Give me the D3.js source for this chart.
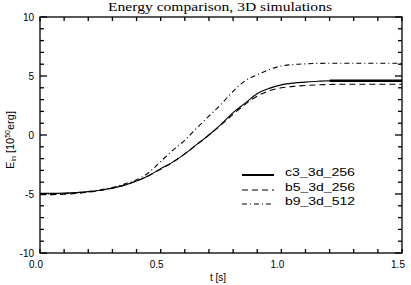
<!DOCTYPE html>
<html>
<head>
<meta charset="utf-8">
<script src="https://cdn.jsdelivr.net/npm/d3@7/dist/d3.min.js"></script>
<style>
	html, body { margin: 0; padding: 0; background: #fff; }
	svg { display: block; }
	text { fill: #000; }
</style>
</head>
<body>
<svg id="chart" width="411" height="285"></svg>
<script>
// time samples [s]
const times = [0, 0.05, 0.1, 0.15, 0.2, 0.25, 0.3, 0.35, 0.4, 0.45, 0.5, 0.55, 0.6, 0.65, 0.7, 0.75,
	0.8, 0.85, 0.9, 0.95, 1.0, 1.05, 1.1, 1.15, 1.2, 1.25, 1.3, 1.35, 1.4, 1.45, 1.5];

// energies
const c3Values = [-4.95, -4.95, -4.93, -4.88, -4.8, -4.68, -4.5, -4.25, -3.9, -3.45, -2.85, -2.3, -1.6, -0.8, 0.0, 0.9,
	1.9, 2.7, 3.5, 3.95, 4.25, 4.4, 4.48, 4.55, 4.6, 4.6, 4.6, 4.6, 4.6, 4.6, 4.6];
const b5Values = [-5.05, -5.05, -5.02, -4.95, -4.85, -4.7, -4.5, -4.25, -3.9, -3.45, -2.9, -2.3, -1.6, -0.8, 0.0, 0.85,
	1.75, 2.6, 3.3, 3.75, 4.0, 4.12, 4.2, 4.25, 4.28, 4.3, 4.3, 4.3, 4.3, 4.3, 4.3];
const b9Values = [-5.0, -5.0, -4.97, -4.9, -4.8, -4.65, -4.45, -4.15, -3.8, -3.2, -2.25, -1.3, -0.45, 0.6, 1.6, 2.6,
	3.7, 4.6, 5.1, 5.55, 5.85, 5.97, 6.03, 6.07, 6.08, 6.08, 6.08, 6.08, 6.08, 6.08, 6.08];

const seriesNames = ["c3_3d_256", "b5_3d_256", "b9_3d_512"];
const xTickLabels = ["0.0", "0.5", "1.0", "1.5"];
const yTickLabels = ["-10", "-5", "0", "5", "10"];

const margin = { top: 17, right: 9, bottom: 32, left: 40 },
	width = 411,
	height = 285;

const svg = d3.select("#chart");

const x = d3.scaleLinear().domain([0, 1.5]).range([margin.left, width - margin.right]);
const y = d3.scaleLinear().domain([-10, 10]).range([height - margin.bottom, margin.top]);

const xMajor = xTickLabels.map(Number),
	xMinor = d3.range(0, 16).map(i => i / 10),
	yMajor = yTickLabels.map(Number),
	yMinor = d3.range(-10, 11);

const tickLen = 4;

// frame
svg.append("rect")
	.attr("x", x(0)).attr("y", y(10))
	.attr("width", x(1.5) - x(0)).attr("height", y(-10) - y(10))
	.attr("fill", "none").attr("stroke", "#000").attr("stroke-width", 1.3);

// ticks on all four sides, pointing inward
const ticks = svg.append("g").attr("stroke", "#000").attr("stroke-width", 1.3);
xMinor.forEach(t => {
	ticks.append("line").attr("x1", x(t)).attr("x2", x(t)).attr("y1", y(-10)).attr("y2", y(-10) - tickLen);
	ticks.append("line").attr("x1", x(t)).attr("x2", x(t)).attr("y1", y(10)).attr("y2", y(10) + tickLen);
});
yMinor.forEach(v => {
	const len = yMajor.includes(v) ? tickLen + 3 : tickLen;
	ticks.append("line").attr("x1", x(0)).attr("x2", x(0) + len).attr("y1", y(v)).attr("y2", y(v));
	ticks.append("line").attr("x1", x(1.5)).attr("x2", x(1.5) - len).attr("y1", y(v)).attr("y2", y(v));
});

// tick labels
const labelFont = "'Liberation Sans', sans-serif";
svg.append("g").selectAll("text")
	.data(xMajor)
	.join("text")
	.attr("x", d => x(d) - 4)
	.attr("y", y(-10) + 15)
	.attr("text-anchor", "middle")
	.style("font", `10px ${labelFont}`)
	.text((d, i) => xTickLabels[i]);

svg.append("g").selectAll("text")
	.data(yMajor)
	.join("text")
	.attr("x", x(0) - 6)
	.attr("y", d => y(d) + 4)
	.attr("text-anchor", "end")
	.style("font", `10px ${labelFont}`)
	.text((d, i) => yTickLabels[i]);

// axis titles
svg.append("text")
	.attr("x", 218).attr("y", 281)
	.attr("text-anchor", "middle")
	.style("font", `10px ${labelFont}`)
	.text("t [s]");

const yTitle = svg.append("text")
	.attr("transform", "translate(14,140) rotate(-90)")
	.attr("text-anchor", "middle")
	.style("font", `11px ${labelFont}`);
yTitle.append("tspan").text("E");
yTitle.append("tspan").attr("dy", 2).style("font-size", "7px").text("in");
yTitle.append("tspan").attr("dy", -2).text(" [10");
yTitle.append("tspan").attr("dy", -4).style("font-size", "7px").text("50");
yTitle.append("tspan").attr("dy", 4).text("erg]");

// title
svg.append("text")
	.attr("x", 220).attr("y", 11)
	.attr("text-anchor", "middle")
	.attr("textLength", 224)
	.attr("lengthAdjust", "spacingAndGlyphs")
	.style("font", "13px 'Liberation Serif', serif")
	.text("Energy comparison, 3D simulations");

// curves
const styles = [
	{ dash: null, width: 1.1 },
	{ dash: "6,4", width: 1.1 },
	{ dash: "5,3,1,3", width: 1.1 }
];
const allValues = [c3Values, b5Values, b9Values];

const line = d3.line()
	.x(d => x(d.t))
	.y(d => y(d.v))
	.curve(d3.curveMonotoneX);

allValues.forEach((vals, i) => {
	const data = times.map((t, j) => ({ t: t, v: vals[j] }));
	svg.append("path")
		.datum(data)
		.attr("fill", "none")
		.attr("stroke", "#000")
		.attr("stroke-width", styles[i].width)
		.attr("stroke-dasharray", styles[i].dash)
		.attr("d", line);
});

// the solid run is drawn heavier near the end in the original
const c3Tail = times.map((t, j) => ({ t: t, v: c3Values[j] })).filter(d => d.t >= 1.2);
svg.append("path")
	.datum(c3Tail)
	.attr("fill", "none")
	.attr("stroke", "#000")
	.attr("stroke-width", 2.4)
	.attr("d", line);

// legend
const legendY = [175, 190, 204];
const legend = svg.append("g");
seriesNames.forEach((name, i) => {
	legend.append("line")
		.attr("x1", 242).attr("x2", 274)
		.attr("y1", legendY[i]).attr("y2", legendY[i])
		.attr("stroke", "#000")
		.attr("stroke-width", i === 0 ? 2 : 1.1)
		.attr("stroke-dasharray", styles[i].dash);
	legend.append("text")
		.attr("x", 285).attr("y", legendY[i] + 1)
		.attr("textLength", 70)
		.attr("lengthAdjust", "spacingAndGlyphs")
		.style("font", `10px ${labelFont}`)
		.text(name);
});
</script>
</body>
</html>
